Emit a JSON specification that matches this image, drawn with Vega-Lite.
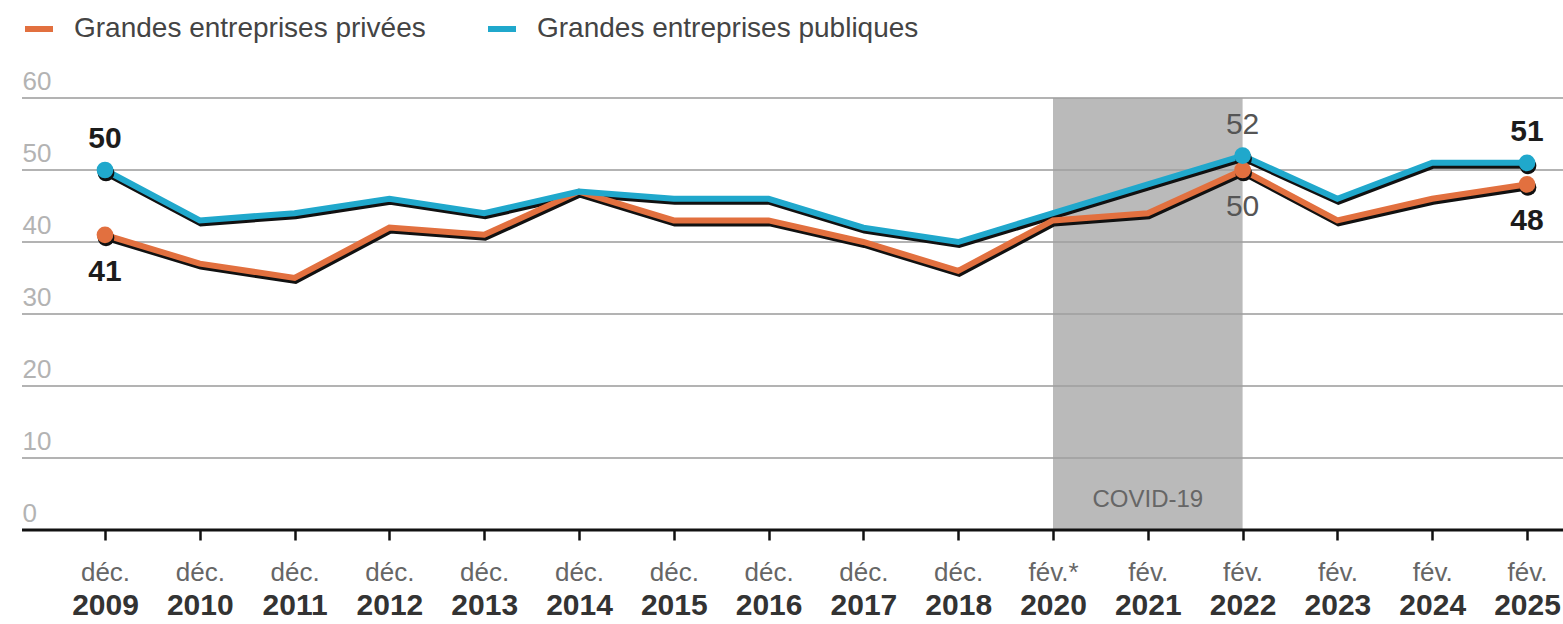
{
  "$schema": "https://vega.github.io/schema/vega-lite/v6.json",
  "width": 1541,
  "height": 432,
  "autosize": {"type": "none"},
  "padding": {"left": 22, "top": 98, "right": 0, "bottom": 94},
  "background": "white",
  "config": {
    "view": {"stroke": null},
    "font": "Liberation Sans",
    "legend": {
      "orient": "none",
      "legendX": 0,
      "legendY": -86,
      "direction": "horizontal",
      "labelFontSize": 28,
      "labelColor": "#444444",
      "labelLimit": 1000,
      "symbolType": "stroke",
      "symbolStrokeWidth": 6,
      "symbolSize": 784,
      "columnPadding": 50,
      "labelOffset": 18
    }
  },
  "datasets": {
    "sondage": [
      {"periode": "déc. 2009", "serie": "Grandes entreprises privées", "valeur": 41, "label": "41"},
      {"periode": "déc. 2010", "serie": "Grandes entreprises privées", "valeur": 37},
      {"periode": "déc. 2011", "serie": "Grandes entreprises privées", "valeur": 35},
      {"periode": "déc. 2012", "serie": "Grandes entreprises privées", "valeur": 42},
      {"periode": "déc. 2013", "serie": "Grandes entreprises privées", "valeur": 41},
      {"periode": "déc. 2014", "serie": "Grandes entreprises privées", "valeur": 47},
      {"periode": "déc. 2015", "serie": "Grandes entreprises privées", "valeur": 43},
      {"periode": "déc. 2016", "serie": "Grandes entreprises privées", "valeur": 43},
      {"periode": "déc. 2017", "serie": "Grandes entreprises privées", "valeur": 40},
      {"periode": "déc. 2018", "serie": "Grandes entreprises privées", "valeur": 36},
      {"periode": "fév.* 2020", "serie": "Grandes entreprises privées", "valeur": 43},
      {"periode": "fév. 2021", "serie": "Grandes entreprises privées", "valeur": 44},
      {"periode": "fév. 2022", "serie": "Grandes entreprises privées", "valeur": 50, "label": "50"},
      {"periode": "fév. 2023", "serie": "Grandes entreprises privées", "valeur": 43},
      {"periode": "fév. 2024", "serie": "Grandes entreprises privées", "valeur": 46},
      {"periode": "fév. 2025", "serie": "Grandes entreprises privées", "valeur": 48, "label": "48"},
      {"periode": "déc. 2009", "serie": "Grandes entreprises publiques", "valeur": 50, "label": "50"},
      {"periode": "déc. 2010", "serie": "Grandes entreprises publiques", "valeur": 43},
      {"periode": "déc. 2011", "serie": "Grandes entreprises publiques", "valeur": 44},
      {"periode": "déc. 2012", "serie": "Grandes entreprises publiques", "valeur": 46},
      {"periode": "déc. 2013", "serie": "Grandes entreprises publiques", "valeur": 44},
      {"periode": "déc. 2014", "serie": "Grandes entreprises publiques", "valeur": 47},
      {"periode": "déc. 2015", "serie": "Grandes entreprises publiques", "valeur": 46},
      {"periode": "déc. 2016", "serie": "Grandes entreprises publiques", "valeur": 46},
      {"periode": "déc. 2017", "serie": "Grandes entreprises publiques", "valeur": 42},
      {"periode": "déc. 2018", "serie": "Grandes entreprises publiques", "valeur": 40},
      {"periode": "fév.* 2020", "serie": "Grandes entreprises publiques", "valeur": 44},
      {"periode": "fév. 2021", "serie": "Grandes entreprises publiques", "valeur": 48},
      {"periode": "fév. 2022", "serie": "Grandes entreprises publiques", "valeur": 52, "label": "52"},
      {"periode": "fév. 2023", "serie": "Grandes entreprises publiques", "valeur": 46},
      {"periode": "fév. 2024", "serie": "Grandes entreprises publiques", "valeur": 51},
      {"periode": "fév. 2025", "serie": "Grandes entreprises publiques", "valeur": 51, "label": "51"}
    ],
    "covid": [
      {"debut": "fév.* 2020", "fin": "fév. 2022", "milieu": "fév. 2021", "texte": "COVID-19"}
    ],
    "grille": [
      {"niveau": 10}, {"niveau": 20}, {"niveau": 30}, {"niveau": 40}, {"niveau": 50}, {"niveau": 60}
    ]
  },
  "layer": [
    {
      "data": {"name": "grille"},
      "mark": {"type": "rule", "color": "#b3b3b3", "strokeWidth": 2},
      "encoding": {
        "y": {
          "field": "niveau",
          "type": "quantitative",
          "scale": {"domain": [0, 60], "nice": false},
          "axis": {
            "title": null,
            "values": [0, 10, 20, 30, 40, 50, 60],
            "domain": false,
            "ticks": false,
            "tickSize": 0,
            "labelAlign": "left",
            "labelBaseline": "alphabetic",
            "labelPadding": 0,
            "labelOffset": -9,
            "labelFontSize": 26,
            "labelColor": "#b3b3b3",
            "grid": false
          }
        }
      }
    },
    {
      "data": {"name": "covid"},
      "mark": {"type": "rect", "color": "#a0a0a0", "opacity": 0.72},
      "encoding": {
        "x": {
          "field": "debut",
          "type": "ordinal",
          "scale": {
            "type": "point",
            "padding": 0,
            "range": [83, 1505],
            "domain": ["déc. 2009", "déc. 2010", "déc. 2011", "déc. 2012", "déc. 2013", "déc. 2014", "déc. 2015", "déc. 2016", "déc. 2017", "déc. 2018", "fév.* 2020", "fév. 2021", "fév. 2022", "fév. 2023", "fév. 2024", "fév. 2025"]
          },
          "axis": {
            "orient": "bottom",
            "title": null,
            "labelExpr": "split(datum.value, ' ')[1]",
            "ticks": false,
            "domain": false,
            "grid": false,
            "labelAngle": 0,
            "labelFontSize": 30,
            "labelFontWeight": "bold",
            "labelColor": "#333333",
            "labelPadding": 60
          }
        },
        "x2": {"field": "fin"},
        "y": {"datum": 0, "type": "quantitative"},
        "y2": {"datum": 60}
      }
    },
    {
      "data": {"name": "grille"},
      "transform": [{"filter": "datum.niveau == 10"}],
      "mark": {"type": "rule", "color": "#111111", "strokeWidth": 3},
      "encoding": {
        "y": {"datum": 0, "type": "quantitative"}
      }
    },
    {
      "data": {"name": "sondage"},
      "mark": {"type": "line", "color": "#111111", "strokeWidth": 6, "yOffset": 3, "xOffset": 1},
      "encoding": {
        "x": {"field": "periode", "type": "ordinal", "axis": null},
        "y": {"field": "valeur", "type": "quantitative"},
        "detail": {"field": "serie"},
        "order": {"value": null}
      }
    },
    {
      "data": {"name": "sondage"},
      "mark": {"type": "line", "strokeWidth": 6},
      "encoding": {
        "x": {
          "field": "periode",
          "type": "ordinal",
          "axis": {
            "orient": "bottom",
            "title": null,
            "labelExpr": "split(datum.value, ' ')[0]",
            "domain": false,
            "grid": false,
            "ticks": true,
            "tickColor": "#111111",
            "tickWidth": 2.5,
            "tickSize": 10,
            "labelAngle": 0,
            "labelFontSize": 26,
            "labelColor": "#666666",
            "labelPadding": 19
          }
        },
        "y": {"field": "valeur", "type": "quantitative"},
        "color": {
          "field": "serie",
          "type": "nominal",
          "scale": {"domain": ["Grandes entreprises privées", "Grandes entreprises publiques"], "range": ["#e2703f", "#20a8cc"]},
          "legend": {"title": null}
        },
        "order": {"value": null}
      }
    },
    {
      "data": {"name": "sondage"},
      "transform": [{"filter": "isValid(datum.label)"}],
      "mark": {"type": "circle", "color": "#111111", "opacity": 1, "size": 280, "yOffset": 3, "xOffset": 1},
      "encoding": {
        "x": {"field": "periode", "type": "ordinal", "axis": null},
        "y": {"field": "valeur", "type": "quantitative"}
      }
    },
    {
      "data": {"name": "sondage"},
      "transform": [{"filter": "isValid(datum.label)"}],
      "mark": {"type": "circle", "opacity": 1, "size": 280},
      "encoding": {
        "x": {"field": "periode", "type": "ordinal", "axis": null},
        "y": {"field": "valeur", "type": "quantitative"},
        "color": {"field": "serie", "type": "nominal", "legend": null}
      }
    },
    {
      "data": {"name": "sondage"},
      "transform": [{"filter": "isValid(datum.label)"}],
      "mark": {
        "type": "text",
        "fontSize": 30,
        "baseline": "middle",
        "dy": {"expr": "datum.serie == 'Grandes entreprises publiques' ? -31 : 37"},
        "fontWeight": {"expr": "datum.periode == 'fév. 2022' ? 'normal' : 'bold'"},
        "color": {"expr": "datum.periode == 'fév. 2022' ? '#555555' : '#1c1c1c'"}
      },
      "encoding": {
        "x": {"field": "periode", "type": "ordinal", "axis": null},
        "y": {"field": "valeur", "type": "quantitative"},
        "text": {"field": "label"}
      }
    },
    {
      "data": {"name": "covid"},
      "mark": {"type": "text", "fontSize": 24, "color": "#666666", "baseline": "middle"},
      "encoding": {
        "x": {"field": "milieu", "type": "ordinal", "axis": null},
        "y": {"datum": 4.2, "type": "quantitative"},
        "text": {"field": "texte"}
      }
    }
  ],
  "resolve": {"axis": {"x": "independent"}}
}
